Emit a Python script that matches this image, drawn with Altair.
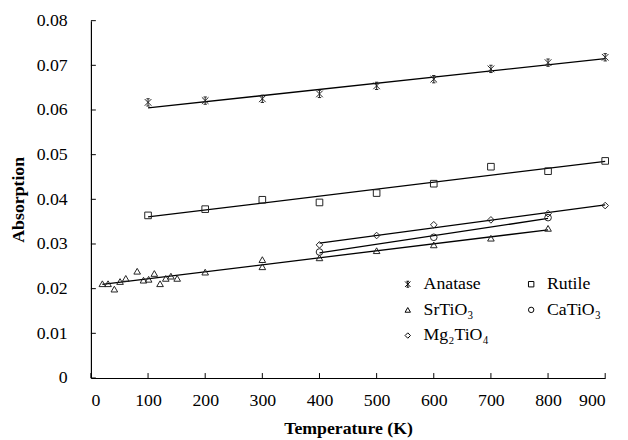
import altair as alt
import pandas as pd

# ---- data ----
series_names = ["Anatase", "Rutile", "SrTiO₃", "CaTiO₃", "Mg₂TiO₄"]

T_anatase = [100, 200, 300, 400, 500, 600, 700, 800, 900]
A_anatase = [0.0617, 0.0621, 0.0625, 0.0636, 0.0654, 0.0669, 0.0692, 0.0706, 0.0718]

T_rutile = [100, 200, 300, 400, 500, 600, 700, 800, 900]
A_rutile = [0.0364, 0.0378, 0.0399, 0.0393, 0.0414, 0.0435, 0.0473, 0.0463, 0.0486]

T_sr = [20, 30, 41, 51, 61, 81, 92, 101, 111, 121, 131, 140, 151, 200, 300, 300, 400, 500, 600, 700, 800]
A_sr = [0.0211, 0.0211, 0.0199, 0.0216, 0.0223, 0.0239, 0.0219, 0.0221, 0.0234, 0.0211, 0.0223,
        0.0228, 0.0223, 0.0237, 0.0265, 0.0249, 0.0269, 0.0285, 0.0298, 0.0313, 0.0335]

T_ca = [400, 600, 800]
A_ca = [0.0282, 0.0315, 0.0359]

T_mg = [400, 500, 600, 700, 800, 900]
A_mg = [0.0298, 0.0319, 0.0343, 0.0354, 0.0368, 0.0386]

x_ticks = [0, 100, 200, 300, 400, 500, 600, 700, 800, 900]
y_ticks = [0, 0.01, 0.02, 0.03, 0.04, 0.05, 0.06, 0.07, 0.08]

rows = []
for name, ts, vs in zip(series_names,
                        [T_anatase, T_rutile, T_sr, T_ca, T_mg],
                        [A_anatase, A_rutile, A_sr, A_ca, A_mg]):
    for t, v in zip(ts, vs):
        rows.append({"series": name, "T": t, "A": v})
df = pd.DataFrame(rows)

FONT = "Liberation Serif"
star = "M-1,-1L1,1M-1,1L1,-1M0,-1.1L0,1.1M-0.5,-1.1L0.5,-1.1M-0.5,1.1L0.5,1.1"
shapes = [star, "square", "triangle-up", "circle", "diamond"]

xs = alt.Scale(domain=[0, 900], nice=False)
ys = alt.Scale(domain=[0, 0.08], nice=False)

base = alt.Chart(df)

x_axis = alt.Axis(values=x_ticks, title="Temperature (K)", tickSize=0,
                  labelPadding=14, titlePadding=10, grid=False,
                  labelFont=FONT, labelFontSize=18, labelColor="black",
                  titleFont=FONT, titleFontSize=18, titleFontWeight="bold", titleColor="black",
                  domainColor="black", domainWidth=1.2)
y_axis = alt.Axis(values=y_ticks, title="Absorption", tickSize=0, format=".2~f",
                  labelPadding=24, titlePadding=9, grid=False,
                  labelFont=FONT, labelFontSize=18, labelColor="black",
                  titleFont=FONT, titleFontSize=18, titleFontWeight="bold", titleColor="black",
                  domainColor="black", domainWidth=1.2)

lines = base.transform_regression(
    "T", "A", groupby=["series"], method="linear"
).mark_line(color="black", strokeWidth=1.3).encode(
    x=alt.X("T:Q", scale=xs, axis=x_axis),
    y=alt.Y("A:Q", scale=ys, axis=y_axis),
    detail="series:N",
)

points = base.mark_point(filled=False, color="#222", strokeWidth=1, size=45, opacity=1).encode(
    x=alt.X("T:Q", scale=xs),
    y=alt.Y("A:Q", scale=ys),
    shape=alt.Shape("series:N", scale=alt.Scale(domain=series_names, range=shapes),
                    legend=alt.Legend(title=None, orient="none", legendX=312, legendY=258,
                                      columns=2, direction="horizontal",
                                      labelFont=FONT, labelFontSize=18, labelColor="black",
                                      symbolSize=30, symbolStrokeColor="black",
                                      symbolFillColor="white", symbolStrokeWidth=1,
                                      labelOffset=7, rowPadding=8, columnPadding=34)),
)

xt = alt.Chart(pd.DataFrame({"t": x_ticks})).mark_rule(color="black", strokeWidth=1).encode(
    x=alt.X("t:Q", scale=xs), y=alt.value(362), y2=alt.value(357))
yt = alt.Chart(pd.DataFrame({"v": y_ticks})).mark_rule(color="black", strokeWidth=1).encode(
    y=alt.Y("v:Q", scale=ys), x=alt.value(0), x2=alt.value(5))

chart = alt.layer(lines, points, xt, yt).properties(
    width=521, height=362,
    padding={"left": 84, "top": 10, "right": 15, "bottom": 60},
    autosize=alt.AutoSizeParams(type="none"),
).configure_view(stroke=None).configure_axis(
    labelFont=FONT, titleFont=FONT,
).configure_legend(labelFont=FONT)

chart.save("out.html", embed_options={"renderer": "svg", "actions": False})
